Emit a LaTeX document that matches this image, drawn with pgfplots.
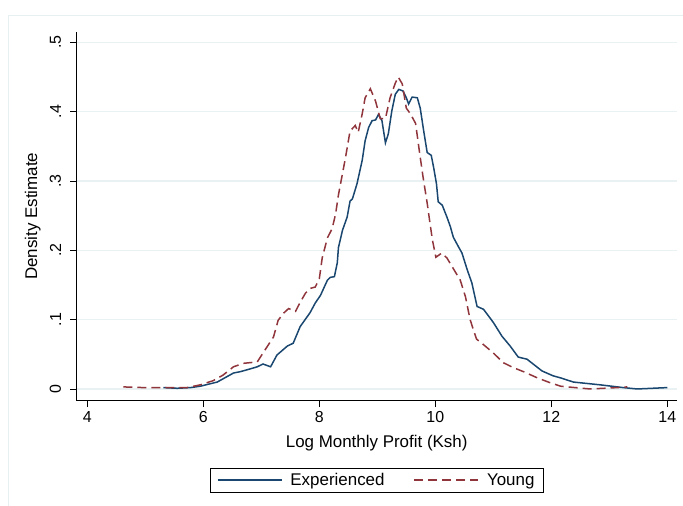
\documentclass[border=0pt]{standalone}
\usepackage{pgfplots}
\pgfplotsset{compat=1.18}
\usepackage{fontspec}
\setmainfont{Liberation Sans}
\definecolor{navyc}{RGB}{26,71,111}
\definecolor{maroonc}{RGB}{144,53,59}
\definecolor{gridc}{RGB}{234,241,243}
\definecolor{framec}{RGB}{232,239,241}
\begin{document}
\begin{tikzpicture}
\useasboundingbox (0,0) rectangle (683bp,506bp);
\draw[framec, line width=1bp] (8bp,0) -- (8bp,490bp) -- (683bp,490bp);
\begin{axis}[
  at={(76.7bp,105.3bp)}, anchor=south west,
  scale only axis, width=600bp, height=369bp,
  xmin=3.817, xmax=14.162, ymin=-0.0169, ymax=0.5153,
  axis x line*=bottom, axis y line*=left,
  axis line style={line width=1bp, black, -},
  xtick={4,6,8,10,12,14},
  ytick={0,0.1,0.2,0.3,0.4,0.5},
  yticklabels={0,.1,.2,.3,.4,.5},
  tick align=outside, major tick length=6.5bp,
  tick style={black, line width=0.8bp},
  ymajorgrids, grid style={gridc, line width=1.2bp},
  /pgf/number format/assume math mode=true,
  tick label style={font=\fontsize{16}{18}\selectfont},
  yticklabel style={rotate=90, anchor=south, inner sep=0pt, yshift=9bp},
  xticklabel style={inner sep=0pt, yshift=-4bp},
  xlabel={Log Monthly Profit (Ksh)},
  ylabel={Density Estimate},
  label style={font=\fontsize{17}{19}\selectfont},
  xlabel style={at={(axis description cs:0.5,-0.128)}, anchor=base},
  ylabel style={at={(axis description cs:-0.066,0.5)}, anchor=base, rotate=0},
  legend columns=2,
  legend image code/.code={\draw[#1] (0bp,0bp) -- (64bp,0bp);},
  legend style={at={(axis description cs:0.5,-0.215)}, anchor=center,
    draw=black, line width=0.8bp, font=\fontsize{17}{19}\selectfont,
    inner xsep=7bp, inner ysep=3bp,
    /tikz/every odd column/.append style={column sep=6bp},
    /tikz/every even column/.append style={column sep=27bp}},
]
\addplot[navyc, line width=1.5bp] coordinates {
(5.31,0.002) (5.55,0.001) (5.78,0.002) (5.95,0.004) (6.24,0.010) (6.52,0.023)
(6.64,0.025) (6.81,0.029) (6.93,0.032) (7.03,0.036) (7.16,0.032) (7.27,0.049)
(7.45,0.062) (7.55,0.066) (7.67,0.090) (7.84,0.110) (7.93,0.124) (8.02,0.135)
(8.14,0.157) (8.19,0.161) (8.26,0.162) (8.31,0.182) (8.33,0.204) (8.40,0.229)
(8.48,0.248) (8.53,0.271) (8.57,0.274) (8.65,0.296) (8.74,0.330) (8.79,0.358)
(8.85,0.377) (8.91,0.387) (8.97,0.388) (9.02,0.396) (9.08,0.387) (9.14,0.355)
(9.19,0.368) (9.25,0.401) (9.31,0.425) (9.37,0.432) (9.44,0.430) (9.50,0.420)
(9.54,0.411) (9.60,0.421) (9.69,0.420) (9.74,0.405) (9.80,0.372) (9.86,0.341)
(9.93,0.337) (9.97,0.320) (10.02,0.296) (10.05,0.270) (10.12,0.265) (10.20,0.248)
(10.26,0.234) (10.31,0.219) (10.40,0.205) (10.46,0.196) (10.55,0.172) (10.63,0.153)
(10.72,0.119) (10.83,0.115) (11.00,0.096) (11.15,0.076) (11.29,0.062) (11.43,0.046)
(11.58,0.043) (11.84,0.026) (12.03,0.019) (12.16,0.016) (12.38,0.010) (12.84,0.006)
(13.24,0.002) (13.48,0.000) (14.00,0.002)
};
\addlegendentry{Experienced}
\addplot[maroonc, line width=1.5bp, dash pattern=on 9bp off 5bp] coordinates {
(4.62,0.003) (4.97,0.002) (5.38,0.002) (5.72,0.002) (5.95,0.006) (6.17,0.012)
(6.34,0.020) (6.52,0.032) (6.69,0.037) (6.93,0.039) (7.03,0.052) (7.21,0.075)
(7.29,0.099) (7.38,0.109) (7.47,0.116) (7.59,0.112) (7.67,0.125) (7.76,0.138)
(7.84,0.145) (7.93,0.147) (8.00,0.159) (8.05,0.189) (8.14,0.218) (8.22,0.231)
(8.28,0.252) (8.33,0.280) (8.45,0.333) (8.53,0.372) (8.62,0.380) (8.67,0.370)
(8.74,0.397) (8.79,0.420) (8.88,0.433) (8.97,0.415) (9.05,0.390) (9.14,0.390)
(9.22,0.420) (9.31,0.441) (9.36,0.450) (9.43,0.440) (9.50,0.405) (9.57,0.397)
(9.66,0.383) (9.73,0.340) (9.79,0.305) (9.86,0.268) (9.90,0.244) (9.95,0.215)
(10.01,0.190) (10.11,0.196) (10.20,0.189) (10.30,0.175) (10.43,0.157) (10.52,0.133)
(10.60,0.100) (10.71,0.072) (10.83,0.064) (11.00,0.052) (11.17,0.038) (11.34,0.031)
(11.52,0.025) (11.76,0.016) (11.98,0.009) (12.16,0.004) (12.28,0.003) (12.67,0.000)
(13.14,0.002) (13.31,0.003)
};
\addlegendentry{Young}
\end{axis}
\end{tikzpicture}
\end{document}
